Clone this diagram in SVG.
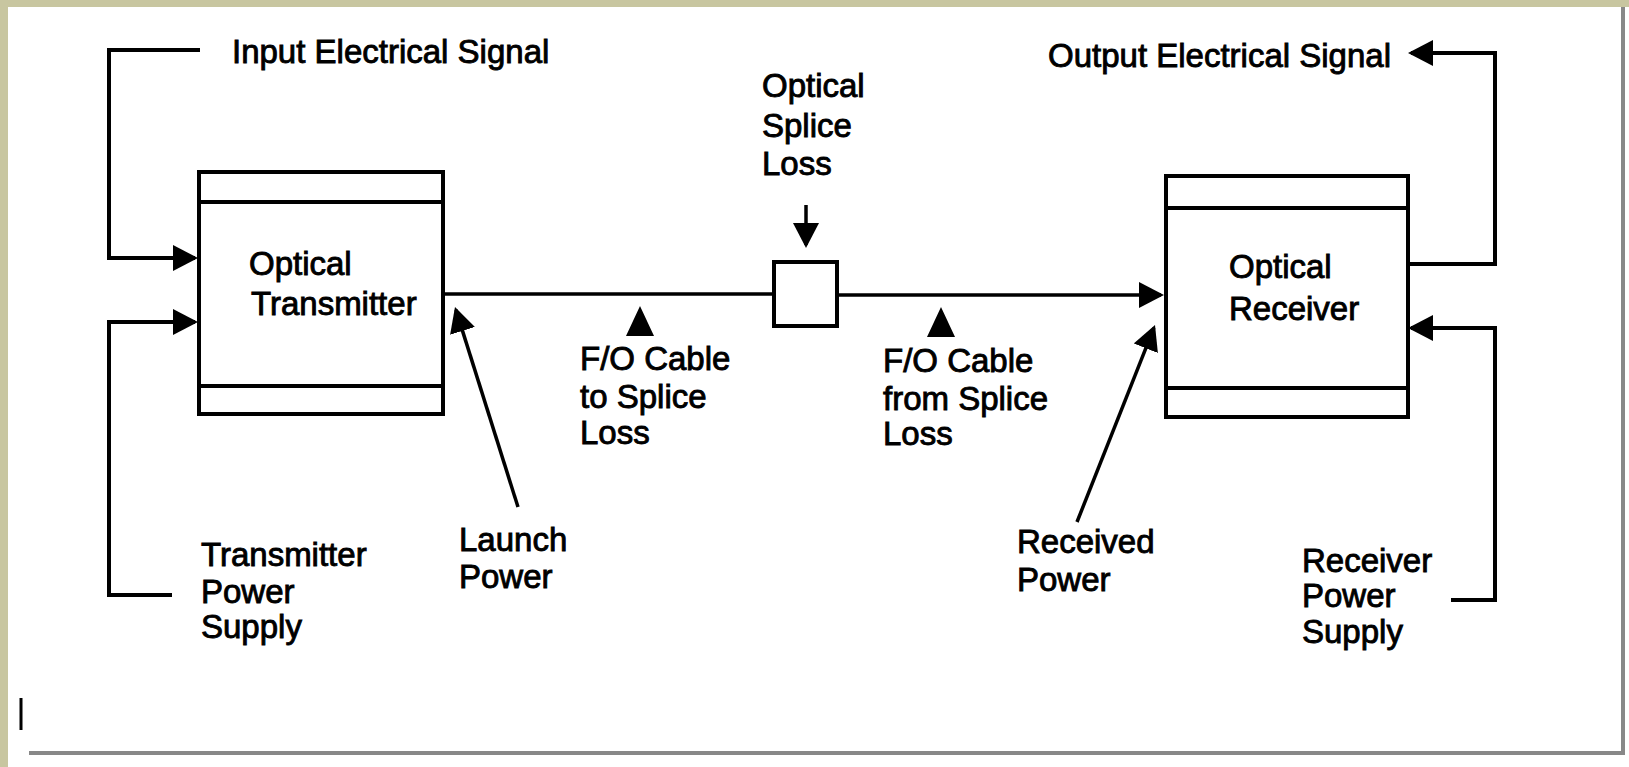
<svg xmlns="http://www.w3.org/2000/svg" width="1629" height="767" viewBox="0 0 1629 767">
<style>
  .t { font-family: "Liberation Sans", Arial, sans-serif; font-size: 33px; fill: #000; stroke: #000; stroke-width: 0.9; }
  .box { fill: #fff; stroke: #000; stroke-width: 4; }
  .div { stroke: #000; stroke-width: 4; fill: none; }
  .wire { fill: none; stroke: #000; stroke-width: 4; }
  .fiber { fill: none; stroke: #000; stroke-width: 3.5; }
  .lead { fill: none; stroke: #000; stroke-width: 3.5; }
</style>
<defs>
  <marker id="ah" markerUnits="userSpaceOnUse" markerWidth="26" markerHeight="27" refX="22" refY="13" orient="auto">
    <path d="M0,0 L25,13 L0,26 z" fill="#000"/>
  </marker>
</defs>
<rect x="0" y="0" width="1629" height="767" fill="#fff"/>
<rect x="0" y="0" width="8" height="767" fill="#c8c6a0"/>
<rect x="0" y="0" width="1629" height="7" fill="#c8c6a0"/>
<line x1="29" y1="753" x2="1625" y2="753" stroke="#888" stroke-width="4"/>
<line x1="1623" y1="7" x2="1623" y2="755" stroke="#888" stroke-width="4"/>
<rect x="19.5" y="698" width="3" height="32" fill="#000"/>

<g id="connectors">
  <polyline class="wire" points="200,50 109,50 109,258 195,258" marker-end="url(#ah)"/>
  <polyline class="wire" points="172,595 109,595 109,322 195,322" marker-end="url(#ah)"/>
  <line class="fiber" x1="443" y1="294" x2="774" y2="294"/>
  <line class="fiber" x1="837" y1="295" x2="1161" y2="295" marker-end="url(#ah)"/>
  <polyline class="wire" points="1409,264 1495,264 1495,53 1411,53" marker-end="url(#ah)"/>
  <polyline class="wire" points="1451,600 1495,600 1495,328 1411,328" marker-end="url(#ah)"/>
  <line class="lead" x1="518" y1="507" x2="455.9" y2="309.9" marker-end="url(#ah)"/>
  <line class="lead" x1="1077" y1="522" x2="1153.9" y2="327.8" marker-end="url(#ah)"/>
  <line class="lead" x1="806" y1="205" x2="806" y2="245" marker-end="url(#ah)"/>
  <polygon points="640,306 626,336 654,336" fill="#000"/>
  <polygon points="941,307 927,337 955,337" fill="#000"/>
</g>

<g id="transmitter">
  <rect class="box" x="199" y="172" width="244" height="242"/>
  <line class="div" x1="199" y1="202" x2="443" y2="202"/>
  <line class="div" x1="199" y1="386" x2="443" y2="386"/>
  <text class="t" x="249" y="275">Optical</text>
  <text class="t" x="251" y="315">Transmitter</text>
</g>

<g id="receiver">
  <rect class="box" x="1166" y="176" width="242" height="241"/>
  <line class="div" x1="1166" y1="208" x2="1408" y2="208"/>
  <line class="div" x1="1166" y1="388" x2="1408" y2="388"/>
  <text class="t" x="1229" y="278">Optical</text>
  <text class="t" x="1229" y="320">Receiver</text>
</g>

<g id="splice">
  <rect class="box" x="774" y="262" width="63" height="64"/>
</g>

<g id="label-input">
  <text class="t" x="232" y="63">Input Electrical Signal</text>
</g>
<g id="label-output">
  <text class="t" x="1048" y="67">Output Electrical Signal</text>
</g>
<g id="label-splice-loss">
  <text class="t" x="762" y="97">Optical</text>
  <text class="t" x="762" y="137">Splice</text>
  <text class="t" x="762" y="175">Loss</text>
</g>
<g id="label-cable-to">
  <text class="t" x="580" y="370">F/O Cable</text>
  <text class="t" x="580" y="408">to Splice</text>
  <text class="t" x="580" y="444">Loss</text>
</g>
<g id="label-cable-from">
  <text class="t" x="883" y="372">F/O Cable</text>
  <text class="t" x="883" y="410">from Splice</text>
  <text class="t" x="883" y="445">Loss</text>
</g>
<g id="label-tx-power">
  <text class="t" x="201" y="566">Transmitter</text>
  <text class="t" x="201" y="603">Power</text>
  <text class="t" x="201" y="638">Supply</text>
</g>
<g id="label-launch">
  <text class="t" x="459" y="551">Launch</text>
  <text class="t" x="459" y="588">Power</text>
</g>
<g id="label-received">
  <text class="t" x="1017" y="553">Received</text>
  <text class="t" x="1017" y="591">Power</text>
</g>
<g id="label-rx-power">
  <text class="t" x="1302" y="572">Receiver</text>
  <text class="t" x="1302" y="607">Power</text>
  <text class="t" x="1302" y="643">Supply</text>
</g>
</svg>
